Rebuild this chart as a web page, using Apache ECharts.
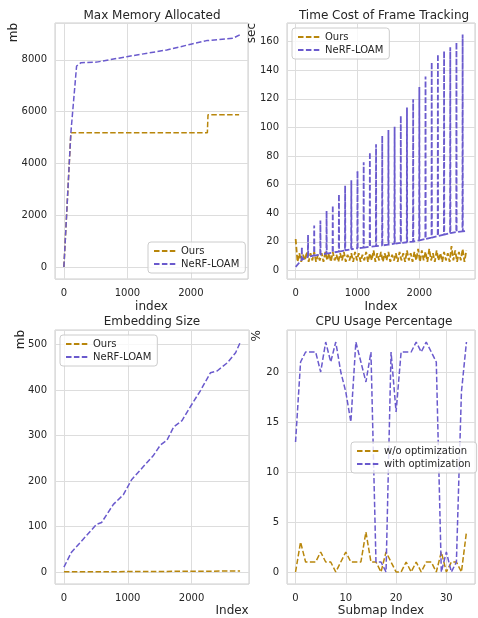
<!DOCTYPE html>
<html>
<head>
<meta charset="utf-8">
<script src="https://cdn.jsdelivr.net/npm/echarts@6.0.0/dist/echarts.min.js"></script>
<style>
  html, body { margin: 0; padding: 0; background: #fff; }
  #chart { width: 478px; height: 618px; }
</style>
</head>
<body>
<div id="chart"></div>
<script>
const ORANGE = "#b8860b";
const PURPLE = "#6a5acd";
const TEXT = "#262626";
const FONT = "DejaVu Sans";

// Max Memory Allocated (mb) over index
const memOurs = [[0, 0], [110, 5185], [2260, 5185], [2270, 5880], [2760, 5880]];
const memNerf = [[0, 0], [110, 5185], [200, 7760], [270, 7890], [515, 7910], [990, 8120],
  [1620, 8380], [2000, 8600], [2250, 8740], [2660, 8830], [2770, 8960]];

// Time Cost of Frame Tracking (sec), Ours sampled every 30 frames
const timeOursStep = 30;
const timeOurs = [22, 6, 12, 6, 11, 7, 13, 6, 12, 7, 13, 6, 11, 7, 12, 6, 13, 7, 12, 6,
  13, 7, 11, 6, 12, 7, 13, 6, 11, 7, 12, 6, 13, 7, 12, 6, 11, 7, 13, 6,
  12, 7, 14, 6, 12, 7, 13, 6, 12, 7, 13, 6, 11, 7, 12, 6, 13, 7, 12, 6,
  14, 7, 12, 6, 13, 7, 15, 6, 14, 7, 13, 6, 15, 7, 12, 6, 14, 7, 12, 6,
  13, 7, 12, 6, 17, 7, 14, 6, 13, 7, 15, 6, 14];
const timeNerfStart = [[0, 2.5], [50, 5]];
const timeNerfSpikeIdx = [100, 200, 300, 400, 500, 600, 700, 800, 900, 1000, 1100, 1200, 1300, 1400,
  1500, 1600, 1700, 1800, 1900, 2000, 2100, 2200, 2300, 2400, 2500, 2600, 2700];
const timeNerfSpikePeak = [16.3, 24.9, 31.4, 34.9, 41.7, 45.4, 53.3, 59.2, 63.1, 69.6, 75.7, 82.7, 88.3, 94.1,
  98.1, 100.4, 108.1, 113.9, 119.7, 128.3, 135.6, 145.6, 151.2, 153.5, 156.0, 159.5, 165.0];
const timeNerfSpikeBase = [7.5, 9.5, 10.3, 11, 11.8, 12.5, 13.2, 14, 14.8, 15.5, 16, 16.5, 17, 17.5,
  18, 18.7, 19.2, 19.7, 20.2, 21, 22, 23, 24, 25, 26, 26.8, 27.3];
const timeNerfEnd = [2760, 27.5];

// Embedding Size (mb)
const embOurs = [[0, 1], [1000, 1.2], [2000, 2], [2760, 2.5]];
const embNerf = [[0, 11], [115, 43], [325, 76], [510, 105], [590, 109], [775, 149], [930, 170],
  [1060, 203], [1245, 232], [1405, 257], [1510, 279], [1615, 290], [1720, 319], [1850, 333],
  [2010, 370], [2140, 399], [2295, 438], [2400, 442], [2560, 460], [2690, 482], [2760, 504]];

// CPU Usage Percentage (%) per submap
const cpuWithout = [0, 3, 1, 1, 1, 2, 1, 1, 0, 1, 2, 1, 1, 1, 4, 1, 1, 0, 2, 1,
  0, 0, 1, 0, 1, 0, 1, 1, 0, 2, 0, 1, 1, 0, 4];
const cpuWith = [13, 21, 22, 22, 22, 20, 23, 21, 23, 20, 18, 15, 23, 21, 19, 22, 1, 1, 0, 22,
  16, 22, 22, 22, 23, 22, 23, 22, 21, 0, 2, 0, 1, 18, 23];

const timeOursData = timeOurs.map((v, i) => [i * timeOursStep, v]);
const timeNerfData = [...timeNerfStart];
timeNerfSpikeIdx.forEach((idx, k) => {
  timeNerfData.push([idx - 3, timeNerfSpikeBase[k]], [idx, timeNerfSpikePeak[k]], [idx + 3, timeNerfSpikeBase[k]]);
});
timeNerfData.push(timeNerfEnd);
const cpuWithoutData = cpuWithout.map((v, i) => [i, v]);
const cpuWithData = cpuWith.map((v, i) => [i, v]);

const chart = echarts.init(document.getElementById("chart"), null, { renderer: "canvas" });

const onlyMultiples = (step) => (v) => {
  const k = v / step;
  return Math.abs(k - Math.round(k)) < 1e-6 ? String(Math.round(v)) : "";
};

const grids = [
  { left: 55, top: 23, width: 193, height: 256 },
  { left: 287, top: 23, width: 193, height: 256 },
  { left: 55, top: 330, width: 194, height: 257 },
  { left: 287, top: 330, width: 194, height: 257 }
].map((g) => ({ ...g, show: true, borderColor: "#cccccc", borderWidth: 1, backgroundColor: "#fff" }));

const makeX = (gridIndex, min, max, step, name, nameGap, namePad) => ({
  type: "value",
  gridIndex,
  min,
  max,
  minInterval: step,
  maxInterval: step,
  splitNumber: 3,
  name,
  nameLocation: "middle",
  nameGap,
  nameMoveOverlap: false,
  nameTextStyle: { color: TEXT, fontSize: 12, fontFamily: FONT, padding: namePad || 0 },
  axisLine: { show: false },
  axisTick: { show: false },
  axisLabel: { color: TEXT, fontSize: 10, fontFamily: FONT, margin: 9, formatter: onlyMultiples(step) },
  splitLine: { show: true, lineStyle: { color: "#dddddd", width: 1 } }
});

const makeY = (gridIndex, min, max, step, name, pad) => ({
  type: "value",
  gridIndex,
  min,
  max,
  minInterval: step,
  maxInterval: step,
  splitNumber: 5,
  name,
  nameLocation: "end",
  nameRotate: 90,
  nameGap: 0,
  nameMoveOverlap: false,
  nameTextStyle: {
    color: TEXT, fontSize: 12, fontFamily: FONT,
    align: "right", verticalAlign: "bottom", padding: [0, 0, pad, 0]
  },
  axisLine: { show: false },
  axisTick: { show: false },
  axisLabel: { color: TEXT, fontSize: 10, fontFamily: FONT, margin: 8, formatter: onlyMultiples(step) },
  splitLine: { show: true, lineStyle: { color: "#dddddd", width: 1 } }
});

const lineSeries = (name, data, color, axisIndex, width) => ({
  name,
  type: "line",
  data,
  xAxisIndex: axisIndex,
  yAxisIndex: axisIndex,
  symbol: "none",
  showSymbol: false,
  silent: true,
  lineStyle: { color, width: width || 1.5, type: [5.5, 2.4] },
  itemStyle: { color }
});

const makeLegend = (left, top, data) => ({
  left,
  top,
  orient: "vertical",
  data,
  itemWidth: 22,
  itemHeight: 11,
  itemGap: 3,
  padding: [4, 6, 4, 5],
  backgroundColor: "rgba(255,255,255,0.8)",
  borderColor: "#cccccc",
  borderWidth: 1,
  borderRadius: 3,
  selectedMode: false,
  itemStyle: { opacity: 0 },
  textStyle: { color: TEXT, fontSize: 10, fontFamily: FONT }
});

const makeTitle = (text, left, top) => ({
  text,
  left,
  top,
  textAlign: "center",
  padding: 0,
  textStyle: { color: TEXT, fontSize: 12, fontWeight: "normal", fontFamily: FONT }
});

chart.setOption({
  animation: false,
  backgroundColor: "#fff",
  title: [
    makeTitle("Max Memory Allocated", 152, 10),
    makeTitle("Time Cost of Frame Tracking", 384, 10),
    makeTitle("Embedding Size", 152, 316),
    makeTitle("CPU Usage Percentage", 384, 316)
  ],
  legend: [
    makeLegend(148, 242, ["Ours", "NeRF-LOAM"]),
    makeLegend(292, 28, ["Ours", "NeRF-LOAM"]),
    makeLegend(60, 335, ["Ours", "NeRF-LOAM"]),
    makeLegend(351, 442, ["w/o optimization", "with optimization"])
  ],
  grid: grids,
  xAxis: [
    makeX(0, -140, 2900, 1000, "index", 22),
    makeX(1, -140, 2900, 1000, "Index", 22),
    makeX(2, -140, 2900, 1000, "Index", 21, [0, 0, 0, 160]),
    makeX(3, -1.7, 35.7, 10, "Submap Index", 21)
  ],
  yAxis: [
    makeY(0, -463, 9420, 2000, "mb", 44),
    makeY(1, -6, 173, 20, "sec", 38),
    makeY(2, -26, 532, 100, "mb", 37),
    makeY(3, -1.2, 24.2, 5, "%", 33)
  ],
  series: [
    lineSeries("Ours", memOurs, ORANGE, 0),
    lineSeries("NeRF-LOAM", memNerf, PURPLE, 0),
    lineSeries("Ours", timeOursData, ORANGE, 1, 1.8),
    lineSeries("NeRF-LOAM", timeNerfData, PURPLE, 1, 1.8),
    lineSeries("Ours", embOurs, ORANGE, 2),
    lineSeries("NeRF-LOAM", embNerf, PURPLE, 2),
    lineSeries("w/o optimization", cpuWithoutData, ORANGE, 3),
    lineSeries("with optimization", cpuWithData, PURPLE, 3)
  ]
});
</script>
</body>
</html>
